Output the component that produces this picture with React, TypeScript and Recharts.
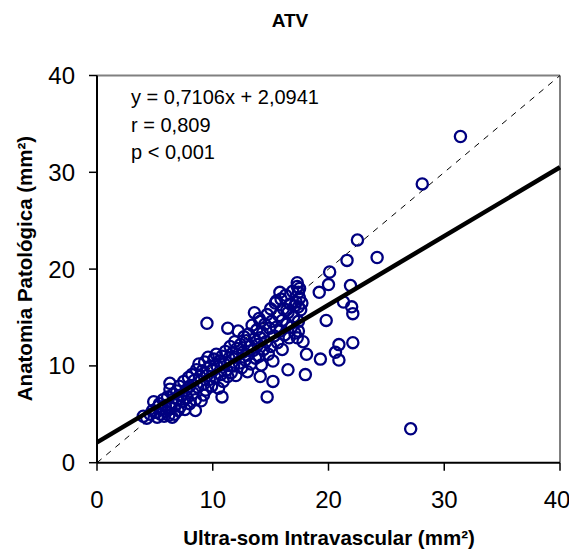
import React from 'react';
import { ScatterChart, Scatter, XAxis, YAxis, ReferenceLine } from 'recharts';

type Pt = [number, number];

// [ultra-som intravascular, anatomia patológica] in mm²
const clusterLow: Pt[] = [
    [4.0, 4.8], [4.3, 4.6], [4.6, 5.0], [4.8, 5.4], [4.9, 6.3], [5.1, 5.2], [5.2, 4.7], [5.3, 5.8],
    [5.4, 6.1], [5.5, 5.0], [5.6, 5.5], [5.7, 6.5], [5.8, 4.8], [5.9, 5.9], [6.0, 5.3], [6.1, 6.8],
    [6.2, 4.9], [6.3, 7.6], [6.3, 8.2], [6.4, 5.6], [6.5, 6.2], [6.5, 4.7], [6.6, 7.1], [6.7, 5.0],
    [6.8, 6.0], [6.9, 7.4], [7.0, 5.4], [7.0, 6.6], [7.1, 7.9], [7.2, 5.8], [7.3, 7.0], [7.4, 6.3],
    [7.5, 8.4], [7.6, 5.5], [7.7, 7.5], [7.8, 6.7], [7.9, 8.8], [8.0, 6.1], [8.0, 7.9], [8.2, 9.1],
    [8.3, 7.2], [8.4, 8.5], [8.5, 6.5], [8.6, 9.6], [8.7, 7.8], [8.8, 10.2], [8.9, 8.9], [9.0, 6.4],
    [9.1, 9.5], [9.2, 8.1], [9.3, 10.4], [9.4, 7.5], [9.5, 9.0], [9.6, 10.9], [9.7, 8.6],
];

const clusterMid: Pt[] = [
    [9.8, 10.0], [9.9, 7.9], [10.0, 9.5], [10.1, 10.7], [10.2, 8.8], [10.3, 11.2], [10.4, 9.9], [10.5, 7.7],
    [10.6, 10.5], [10.7, 9.1], [10.8, 11.0], [10.9, 8.4], [11.0, 10.2], [11.1, 11.5], [11.2, 9.6], [11.3, 8.9],
    [11.4, 10.8], [11.5, 12.0], [11.6, 9.3], [11.7, 11.3], [11.8, 10.0], [11.9, 12.5], [12.0, 9.0], [12.0, 10.9],
    [12.1, 11.8], [12.2, 13.6], [12.3, 10.3], [12.4, 12.2], [12.5, 9.8], [12.6, 11.4], [12.7, 13.0], [12.8, 10.6],
    [12.9, 12.6], [13.0, 11.1], [13.0, 9.4], [13.1, 13.3], [13.2, 12.0], [13.3, 10.2],
];

const clusterHigh: Pt[] = [
    [13.4, 14.2], [13.5, 11.6], [13.6, 12.8], [13.6, 15.5], [13.7, 10.8], [13.8, 13.7], [13.9, 12.2], [14.0, 11.0],
    [14.0, 14.9], [14.1, 12.9], [14.1, 14.6], [14.2, 10.1], [14.3, 13.4], [14.4, 11.7], [14.5, 14.3], [14.6, 12.5],
    [14.7, 15.3], [14.8, 11.2], [14.9, 13.9], [15.0, 12.0], [15.0, 15.9], [15.1, 14.6], [15.2, 10.5], [15.3, 13.1],
    [15.4, 16.5], [15.5, 14.0], [15.5, 16.7], [15.6, 12.4], [15.7, 15.2], [15.8, 13.6], [15.8, 17.6], [15.9, 16.9],
    [16.0, 11.7], [16.0, 14.7], [16.1, 15.9], [16.2, 13.2], [16.3, 17.3], [16.4, 14.3], [16.4, 15.8], [16.5, 15.5],
    [16.6, 12.9], [16.7, 16.4], [16.8, 14.0], [16.9, 17.7], [17.0, 15.1], [17.1, 13.4], [17.1, 16.2], [17.2, 16.6],
    [17.3, 18.2], [17.3, 18.6], [17.4, 14.6], [17.4, 17.6], [17.5, 17.0], [17.6, 15.8], [17.5, 18.0], [17.4, 16.1],
    [17.3, 12.9], [17.7, 16.5],
];

const outliers: Pt[] = [
    [31.4, 33.7], [28.1, 28.8], [22.5, 23.0], [24.2, 21.2], [21.6, 20.9], [20.1, 19.7], [20.0, 18.4], [21.9, 18.3],
    [19.2, 17.6], [21.3, 16.6], [22.0, 16.1], [22.1, 15.4], [19.8, 14.7], [22.1, 12.4], [20.9, 12.2], [20.6, 11.4],
    [20.9, 10.6], [19.3, 10.7], [18.1, 11.2], [17.8, 12.5], [18.0, 9.1], [16.5, 9.6], [15.2, 8.4], [14.7, 6.8],
    [14.1, 8.9], [27.1, 3.5], [9.5, 14.4], [11.3, 13.9], [10.8, 6.8], [9.2, 7.0], [8.5, 5.4], [17.4, 13.6],
];

const axisTicks = [0, 10, 20, 30, 40];
const slope = 0.7106;
const intercept = 2.0941;
const statsLines = ['y = 0,7106x + 2,0941', 'r = 0,809', 'p < 0,001'];

const data = [...clusterLow, ...clusterMid, ...clusterHigh, ...outliers].map(([x, y]) => ({ x, y }));

const FONT = '"Liberation Sans", Arial, sans-serif';
const W = 561;
const H = 542;

const Ring = (props: any) => (
    <circle cx={props.cx} cy={props.cy} r={5.6} fill="none" stroke="#000080" strokeWidth={2.3} />
);

const App: React.FC = () => {
    return (
        <div style={{ position: 'relative', width: W, height: H, fontFamily: FONT }}>
            <ScatterChart width={W} height={H} margin={{ top: 67.5, right: 9, bottom: 27.3, left: 29 }}>
                <XAxis
                    type="number"
                    dataKey="x"
                    domain={[0, 40]}
                    ticks={axisTicks}
                    height={60}
                    tickSize={8}
                    tickMargin={20}
                    axisLine={{ stroke: '#000', strokeWidth: 2 }}
                    tickLine={{ stroke: '#000', strokeWidth: 1.5 }}
                    tick={{ fontSize: 24, fill: '#000', fontFamily: FONT }}
                />
                <YAxis
                    type="number"
                    dataKey="y"
                    domain={[0, 40]}
                    ticks={axisTicks}
                    width={60}
                    tickSize={8}
                    tickMargin={14}
                    axisLine={{ stroke: '#000', strokeWidth: 2 }}
                    tickLine={{ stroke: '#000', strokeWidth: 1.5 }}
                    tick={{ fontSize: 24, fill: '#000', fontFamily: FONT }}
                />
                <ReferenceLine y={40} stroke="#808080" strokeWidth={2} />
                <ReferenceLine x={40} stroke="#808080" strokeWidth={2} />
                <ReferenceLine
                    segment={[{ x: 0, y: 0 }, { x: 40, y: 40 }]}
                    stroke="#000"
                    strokeWidth={1}
                    strokeDasharray="6 6"
                />
                <Scatter data={data} isAnimationActive={false} shape={Ring} />
                <ReferenceLine
                    segment={[{ x: 0, y: intercept }, { x: 40, y: intercept + slope * 40 }]}
                    stroke="#000"
                    strokeWidth={4.5}
                    zIndex={700}
                />
            </ScatterChart>
            <svg
                width={W}
                height={H}
                style={{ position: 'absolute', left: 0, top: 0, overflow: 'visible', pointerEvents: 'none' }}
            >
                <text x={282} y={18.5} textAnchor="middle" fontSize={19} fontWeight="bold" fontFamily={FONT}>
                    ATV
                </text>
                {statsLines.map((line, i) => (
                    <text key={line} x={123} y={96 + i * 27.5} fontSize={20} fontFamily={FONT}>
                        {line}
                    </text>
                ))}
                <text x={321} y={537} textAnchor="middle" fontSize={20.5} fontWeight="bold" fontFamily={FONT}>
                    Ultra-som Intravascular (mm²)
                </text>
                <text
                    x={23.5}
                    y={260.5}
                    textAnchor="middle"
                    fontSize={20.5}
                    fontWeight="bold"
                    fontFamily={FONT}
                    transform="rotate(-90, 23.5, 260.5)"
                >
                    Anatomia Patológica (mm²)
                </text>
            </svg>
        </div>
    );
};

export default App;
